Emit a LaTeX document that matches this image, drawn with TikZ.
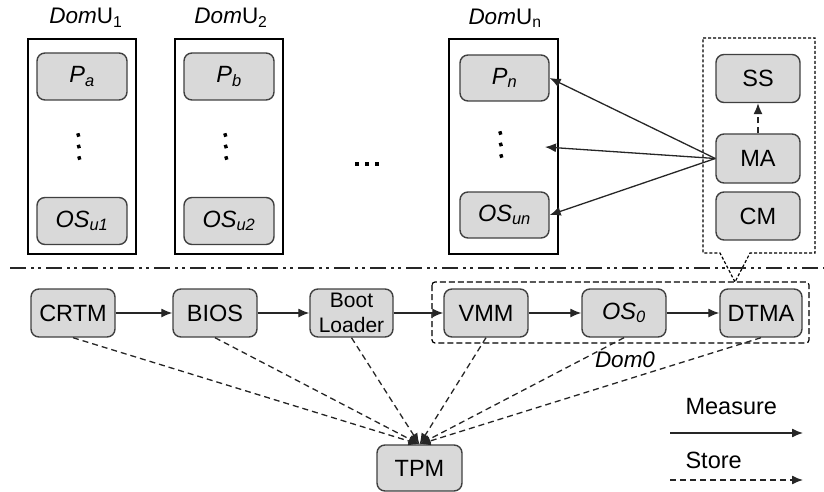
\documentclass[tikz,border=0pt]{standalone}
\usepackage{fontspec}
\setmainfont{Liberation Sans}
\usetikzlibrary{arrows.meta}

\definecolor{boxfill}{HTML}{D9D9D9}
\definecolor{boxline}{HTML}{404040}

\tikzset{
  comp/.style={draw=boxline, fill=boxfill, rounded corners=8pt, line width=1.4pt,
    minimum width=84pt, minimum height=48pt, inner sep=0pt,
    font=\fontsize{23.5}{26}\selectfont, text=black},
  ucomp/.style={comp, minimum width=90pt, minimum height=47pt},
  dom/.style={draw=black, line width=1.4pt, minimum width=108pt,
    minimum height=215pt, inner sep=0pt},
  domlabel/.style={font=\fontsize{22.5}{24}\selectfont, inner sep=0pt},
  measure/.style={-{Latex[length=11pt,width=9pt]}, line width=1.3pt, draw=black!85},
  store/.style={measure, dash pattern=on 6pt off 4pt},
  dotmark/.style={line width=3.4pt, draw=black}
}

\begin{document}
\begin{tikzpicture}[x=1pt,y=-1pt]
\useasboundingbox (0,0) rectangle (824,492);

% guest domains
\node[dom] (u1) at (82,146.5) {};
\node[dom] (u2) at (229,146.5) {};
\node[dom, minimum width=109pt] (un) at (503.5,146.5) {};
\node[domlabel] (l1) at (86,18) {\textit{Dom}U\textsubscript{1}};
\node[domlabel] (l2) at (231,18) {\textit{Dom}U\textsubscript{2}};
\node[domlabel] (ln) at (505,18) {\textit{Dom}U\textsubscript{n}};

\node[ucomp] (pa) at (82,76.5) {\textit{P\textsubscript{a}}};
\node[ucomp] (osu1) at (82,221) {\textit{OS\textsubscript{u1}}};
\node[ucomp] (pb) at (229,76.5) {\textit{P\textsubscript{b}}};
\node[ucomp] (osu2) at (229,221) {\textit{OS\textsubscript{u2}}};
\node[ucomp, minimum width=89pt, minimum height=46pt] (pn) at (504.5,78) {\textit{P\textsubscript{n}}};
\node[ucomp, minimum width=89pt, minimum height=46pt] (osun) at (504.5,215) {\textit{OS\textsubscript{un}}};

% vertical ellipses inside the guest domains
\foreach \x/\y in {78.3/135, 78.8/146.5, 79.3/158, 225.3/135, 225.8/146.5, 226.3/158, 500.3/133, 500.8/144.5, 501.3/156}
  \draw[dotmark] (\x-0.5,\y-1.7) -- (\x+0.5,\y+1.7);

% horizontal ellipsis between the guests
\foreach \x in {357,367,377}
  \fill (\x-2.4,161.5) rectangle (\x+2.4,165.5);

% management components in Dom0
\node[comp] (ss) at (758,78.5) {SS};
\node[comp, minimum height=49pt] (ma) at (758,158.5) {MA};
\node[comp] (cm) at (758,216) {CM};
\draw[line width=1.2pt, dash pattern=on 3pt off 2pt]
  (703,38) -- (815,38) -- (815,253) -- (750,253) -- (735,282) -- (720,253) -- (703,253) -- cycle;

\coordinate (mid) at (545,147);
\draw[measure] (ma.west) -- (pn.east);
\draw[measure] (ma.west) -- (mid);
\draw[measure] (ma.west) -- (osun.east);
\draw[store] (ma.north) -- (ss.south);

% privilege boundary
\draw[line width=1.3pt, draw=black!85,
  dash pattern=on 16pt off 5pt on 3pt off 4pt on 3pt off 5pt] (10,268) -- (824,268);

% boot chain
\node[comp] (crtm) at (73,313) {CRTM};
\node[comp] (bios) at (215,313) {BIOS};
\node[comp, minimum width=83pt, font=\fontsize{21}{25}\selectfont, align=center] (boot) at (351.5,313) {Boot\\Loader};
\node[comp] (vmm) at (486,313) {VMM};
\node[comp] (os0) at (624,313) {\textit{OS\textsubscript{0}}};
\node[comp, minimum width=82pt] (dtma) at (761,313) {DTMA};

\draw[line width=1.2pt, dash pattern=on 6pt off 3pt, rounded corners=3pt] (432,282) rectangle (809,343);
\node[domlabel] (dom0) at (625,360) {\textit{Dom0}};

\draw[measure] (crtm) -- (bios);
\draw[measure] (bios) -- (boot);
\draw[measure] (boot) -- (vmm);
\draw[measure] (vmm) -- (os0);
\draw[measure] (os0) -- (dtma);

% trusted platform module
\node[comp, minimum width=85pt, minimum height=46pt] (tpm) at (419.5,468) {TPM};
\foreach \s in {crtm,bios,boot,vmm,os0,dtma}
  \draw[store] (\s.south) -- (tpm.north);

% legend
\node[anchor=west, font=\fontsize{23.5}{26}\selectfont] (mtext) at (682,407) {Measure};
\node[anchor=west, font=\fontsize{23.5}{26}\selectfont] (stext) at (682,460) {Store};
\coordinate (ma1) at (670,433);
\coordinate (ma2) at (803,433);
\coordinate (st1) at (670,480);
\coordinate (st2) at (803,480);
\draw[measure] (ma1) -- (ma2);
\draw[store] (st1) -- (st2);
\end{tikzpicture}
\end{document}
